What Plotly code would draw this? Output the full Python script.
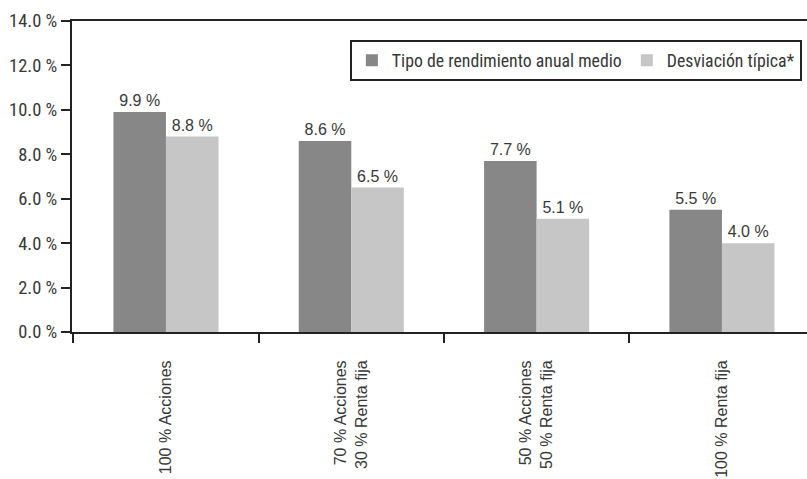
import plotly.graph_objects as go

categories = ["100 % Acciones", "70 % Acciones<br>30 % Renta fija",
              "50 % Acciones<br>50 % Renta fija", "100 % Renta fija"]
rendimiento = [9.9, 8.6, 7.7, 5.5]
desviacion = [8.8, 6.5, 5.1, 4.0]
series_names = ["Tipo de rendimiento anual medio", "Desviación típica*"]
y_ticks = [0, 2, 4, 6, 8, 10, 12, 14]
y_ticktext = [f"{v:.1f} %" for v in y_ticks]

COND = "Roboto Condensed, Liberation Sans Narrow, DejaVu Sans Condensed, sans-serif"
REG = "Liberation Sans, Arial, sans-serif"
TXT = "#383838"

fig = go.Figure()
fig.add_trace(go.Bar(x=categories, y=rendimiento, name=series_names[0],
                     marker=dict(color="#878787", line=dict(width=0)),
                     texttemplate="%{y:.1f} %", textposition="outside",
                     textfont=dict(size=16, color=TXT, family=REG), cliponaxis=False))
fig.add_trace(go.Bar(x=categories, y=desviacion, name=series_names[1],
                     marker=dict(color="#c6c6c7", line=dict(width=0)),
                     texttemplate="%{y:.1f} %", textposition="outside",
                     textfont=dict(size=16, color=TXT, family=REG), cliponaxis=False))

fig.update_layout(
    width=807, height=479,
    margin=dict(l=72, r=0, t=21, b=147, pad=0),
    paper_bgcolor="white", plot_bgcolor="white",
    barmode="group", bargap=0.433, bargroupgap=0,
    font=dict(family=COND, size=17, color=TXT),
    showlegend=True,
    legend=dict(orientation="h", x=0.993, xanchor="right", y=0.938, yanchor="top",
                bordercolor="#222222", borderwidth=2, bgcolor="white",
                font=dict(size=17.8, color=TXT, family=COND),
                itemwidth=30, tracegroupgap=0),
)
fig.update_xaxes(range=[-0.507, 3.459], tickson="boundaries", ticks="outside",
                 ticklen=9, tickwidth=2, tickcolor="#222222",
                 showline=True, linecolor="#222222", linewidth=2, mirror=True,
                 tickangle=-90, showgrid=False, zeroline=False, automargin=False,
                 ticklabelstandoff=20,
                 tickfont=dict(size=16, color=TXT, family=REG))
fig.update_yaxes(range=[0, 14], tickvals=y_ticks, ticktext=y_ticktext,
                 ticks="outside", ticklen=9, tickwidth=2, tickcolor="#222222",
                 showline=True, linecolor="#222222", linewidth=2,
                 showgrid=False, zeroline=False, automargin=False,
                 tickfont=dict(size=18.5, color=TXT, family=COND))

fig.write_html("out.html")
